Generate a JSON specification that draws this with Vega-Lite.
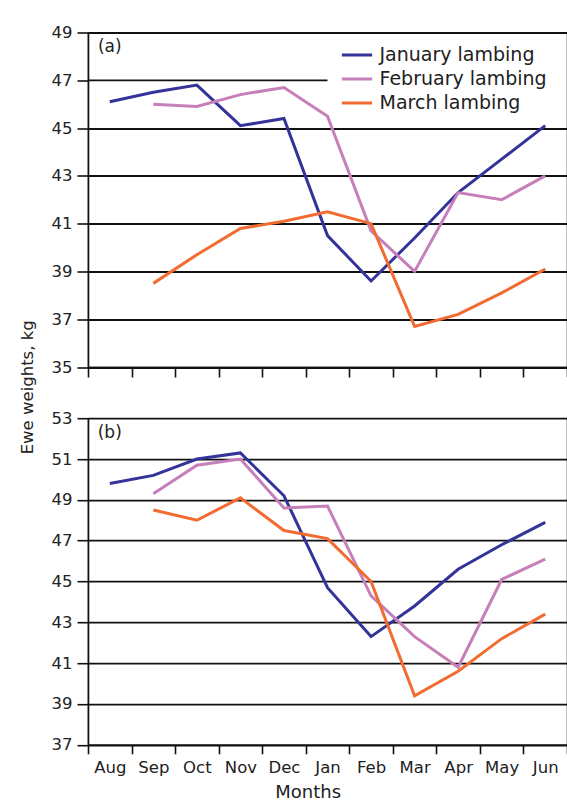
{
  "$schema": "https://vega.github.io/schema/vega-lite/v6.json",
  "padding": {"left": 18, "top": 23.5, "right": 0, "bottom": 0},
  "background": "white",
  "config": {
    "font": "DejaVu Sans",
    "view": {"stroke": "#333", "strokeWidth": 1.2},
    "axis": {"labelColor": "#222", "titleColor": "#222", "domainColor": "#111", "tickColor": "#111", "domainWidth": 1.6, "tickWidth": 1.6, "titleFontWeight": "normal", "labelFlush": false, "labelOverlap": false}
  },
  "datasets": {
    "w": [
      {"p": "a", "s": "January lambing", "m": "Aug", "v": 46.1},
      {"p": "a", "s": "January lambing", "m": "Sep", "v": 46.5},
      {"p": "a", "s": "January lambing", "m": "Oct", "v": 46.8},
      {"p": "a", "s": "January lambing", "m": "Nov", "v": 45.1},
      {"p": "a", "s": "January lambing", "m": "Dec", "v": 45.4},
      {"p": "a", "s": "January lambing", "m": "Jan", "v": 40.5},
      {"p": "a", "s": "January lambing", "m": "Feb", "v": 38.6},
      {"p": "a", "s": "January lambing", "m": "Mar", "v": 40.4},
      {"p": "a", "s": "January lambing", "m": "Apr", "v": 42.3},
      {"p": "a", "s": "January lambing", "m": "May", "v": 43.7},
      {"p": "a", "s": "January lambing", "m": "Jun", "v": 45.1},
      {"p": "a", "s": "February lambing", "m": "Sep", "v": 46.0},
      {"p": "a", "s": "February lambing", "m": "Oct", "v": 45.9},
      {"p": "a", "s": "February lambing", "m": "Nov", "v": 46.4},
      {"p": "a", "s": "February lambing", "m": "Dec", "v": 46.7},
      {"p": "a", "s": "February lambing", "m": "Jan", "v": 45.5},
      {"p": "a", "s": "February lambing", "m": "Feb", "v": 40.7},
      {"p": "a", "s": "February lambing", "m": "Mar", "v": 39.0},
      {"p": "a", "s": "February lambing", "m": "Apr", "v": 42.3},
      {"p": "a", "s": "February lambing", "m": "May", "v": 42.0},
      {"p": "a", "s": "February lambing", "m": "Jun", "v": 43.0},
      {"p": "a", "s": "March lambing", "m": "Sep", "v": 38.5},
      {"p": "a", "s": "March lambing", "m": "Oct", "v": 39.7},
      {"p": "a", "s": "March lambing", "m": "Nov", "v": 40.8},
      {"p": "a", "s": "March lambing", "m": "Dec", "v": 41.1},
      {"p": "a", "s": "March lambing", "m": "Jan", "v": 41.5},
      {"p": "a", "s": "March lambing", "m": "Feb", "v": 41.0},
      {"p": "a", "s": "March lambing", "m": "Mar", "v": 36.7},
      {"p": "a", "s": "March lambing", "m": "Apr", "v": 37.2},
      {"p": "a", "s": "March lambing", "m": "May", "v": 38.1},
      {"p": "a", "s": "March lambing", "m": "Jun", "v": 39.1},
      {"p": "b", "s": "January lambing", "m": "Aug", "v": 49.8},
      {"p": "b", "s": "January lambing", "m": "Sep", "v": 50.2},
      {"p": "b", "s": "January lambing", "m": "Oct", "v": 51.0},
      {"p": "b", "s": "January lambing", "m": "Nov", "v": 51.3},
      {"p": "b", "s": "January lambing", "m": "Dec", "v": 49.2},
      {"p": "b", "s": "January lambing", "m": "Jan", "v": 44.7},
      {"p": "b", "s": "January lambing", "m": "Feb", "v": 42.3},
      {"p": "b", "s": "January lambing", "m": "Mar", "v": 43.8},
      {"p": "b", "s": "January lambing", "m": "Apr", "v": 45.6},
      {"p": "b", "s": "January lambing", "m": "May", "v": 46.8},
      {"p": "b", "s": "January lambing", "m": "Jun", "v": 47.9},
      {"p": "b", "s": "February lambing", "m": "Sep", "v": 49.3},
      {"p": "b", "s": "February lambing", "m": "Oct", "v": 50.7},
      {"p": "b", "s": "February lambing", "m": "Nov", "v": 51.0},
      {"p": "b", "s": "February lambing", "m": "Dec", "v": 48.6},
      {"p": "b", "s": "February lambing", "m": "Jan", "v": 48.7},
      {"p": "b", "s": "February lambing", "m": "Feb", "v": 44.3},
      {"p": "b", "s": "February lambing", "m": "Mar", "v": 42.3},
      {"p": "b", "s": "February lambing", "m": "Apr", "v": 40.8},
      {"p": "b", "s": "February lambing", "m": "May", "v": 45.1},
      {"p": "b", "s": "February lambing", "m": "Jun", "v": 46.1},
      {"p": "b", "s": "March lambing", "m": "Sep", "v": 48.5},
      {"p": "b", "s": "March lambing", "m": "Oct", "v": 48.0},
      {"p": "b", "s": "March lambing", "m": "Nov", "v": 49.1},
      {"p": "b", "s": "March lambing", "m": "Dec", "v": 47.5},
      {"p": "b", "s": "March lambing", "m": "Jan", "v": 47.1},
      {"p": "b", "s": "March lambing", "m": "Feb", "v": 45.0},
      {"p": "b", "s": "March lambing", "m": "Mar", "v": 39.4},
      {"p": "b", "s": "March lambing", "m": "Apr", "v": 40.6},
      {"p": "b", "s": "March lambing", "m": "May", "v": 42.2},
      {"p": "b", "s": "March lambing", "m": "Jun", "v": 43.4}
    ]
  },
  "spacing": 50.7,
  "bounds": "flush",
  "resolve": {"scale": {"y": "independent", "color": "independent"}, "axis": {"x": "independent", "y": "independent"}},
  "vconcat": [
    {
      "width": 479,
      "height": 334.5,
      "layer": [
        {
          "data": {"values": [{}]},
          "mark": {"type": "rule", "color": "#111", "strokeWidth": 1.8},
          "encoding": {
            "x": {"datum": "Aug", "type": "nominal", "bandPosition": 0},
            "x2": {"datum": "Jan"},
            "y": {"datum": 47, "type": "quantitative"}
          }
        },
        {
          "data": {"name": "w"},
          "transform": [{"filter": "datum.p === 'a'"}],
          "mark": {"type": "line", "strokeWidth": 3},
          "encoding": {
            "x": {"field": "m", "type": "nominal", "sort": null,
              "scale": {"type": "band", "domain": ["Aug","Sep","Oct","Nov","Dec","Jan","Feb","Mar","Apr","May","Jun"], "paddingInner": 0, "paddingOuter": 0},
              "axis": {"title": null, "labels": false, "tickBand": "extent", "tickSize": 10, "grid": false}},
            "y": {"field": "v", "type": "quantitative",
              "scale": {"domain": [35, 49], "nice": false, "zero": false},
              "axis": {"values": [35,37,39,41,43,45,47,49], "grid": true,
                "gridColor": {"condition": {"test": "datum.value === 47", "value": "transparent"}, "value": "#111"},
                "gridWidth": 1.8, "tickSize": 11, "labelPadding": 5, "labelFontSize": 16.5,
                "title": "Ewe weights, kg", "titleX": -56, "titleY": 354.3, "titleAngle": 270, "titleAlign": "center", "titleBaseline": "alphabetic", "titleFontSize": 16.5}},
            "color": {"field": "s", "type": "nominal",
              "scale": {"domain": ["January lambing", "February lambing", "March lambing"], "range": ["#333399", "#c77fb9", "#f26b30"]},
              "legend": {"orient": "none", "legendX": 256, "legendY": 9.5, "title": null, "symbolType": "M-1.33,0H1.33", "symbolSize": 520, "symbolStrokeWidth": 3, "labelFontSize": 19, "labelOffset": 9.5, "labelLimit": 400, "padding": 0, "rowPadding": 1, "labelColor": "#222"}}
          }
        },
        {
          "data": {"values": [{}]},
          "mark": {"type": "text", "fontSize": 17, "color": "#222", "align": "center", "baseline": "middle"},
          "encoding": {
            "x": {"datum": "Aug", "type": "nominal"},
            "y": {"datum": 48.38, "type": "quantitative"},
            "text": {"value": "(a)"}
          }
        }
      ]
    },
    {
      "width": 479,
      "height": 326.6,
      "layer": [
        {
          "data": {"name": "w"},
          "transform": [{"filter": "datum.p === 'b'"}],
          "mark": {"type": "line", "strokeWidth": 3},
          "encoding": {
            "x": {"field": "m", "type": "nominal", "sort": null,
              "scale": {"type": "band", "domain": ["Aug","Sep","Oct","Nov","Dec","Jan","Feb","Mar","Apr","May","Jun"], "paddingInner": 0, "paddingOuter": 0},
              "axis": {"title": "Months", "titleX": 219.7, "titleY": 52.8, "titleAlign": "center", "titleBaseline": "alphabetic", "titleFontSize": 18,
                "labelFontSize": 16.5, "labelPadding": 6, "labelAngle": 0, "tickBand": "extent", "tickSize": 9, "grid": false}},
            "y": {"field": "v", "type": "quantitative",
              "scale": {"domain": [37, 53], "nice": false, "zero": false},
              "axis": {"values": [37,39,41,43,45,47,49,51,53], "grid": true, "gridColor": "#111",
                "gridWidth": 1.8, "tickSize": 11, "labelPadding": 5, "labelFontSize": 16.5, "title": null}},
            "color": {"field": "s", "type": "nominal",
              "scale": {"domain": ["January lambing", "February lambing", "March lambing"], "range": ["#333399", "#c77fb9", "#f26b30"]},
              "legend": null}
          }
        },
        {
          "data": {"values": [{}]},
          "mark": {"type": "text", "fontSize": 17, "color": "#222", "align": "center", "baseline": "middle"},
          "encoding": {
            "x": {"datum": "Aug", "type": "nominal"},
            "y": {"datum": 52.28, "type": "quantitative"},
            "text": {"value": "(b)"}
          }
        }
      ]
    }
  ]
}
